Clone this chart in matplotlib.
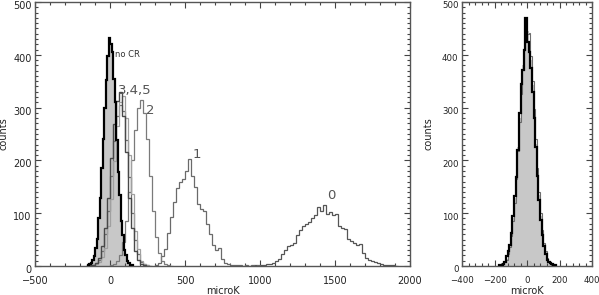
import numpy as np
import matplotlib
matplotlib.use("Agg")
import matplotlib.pyplot as plt
import matplotlib.transforms as mtransforms
from matplotlib.ticker import MultipleLocator

# ---- left panel: histograms of the residuals for the various CR cuts ----
# bin starts / widths (microK) and counts per bin
nocr_start, nocr_width = -150, 10
nocr_counts = [1, 3, 5, 11, 18, 35, 52, 90, 128, 185, 240, 300, 352, 398, 432,
               420, 405, 355, 310, 238, 178, 135, 85, 58, 30, 20, 9, 6, 2, 1]

c3_start, c3_width = -160, 20
c3_counts = [0, 1, 2, 6, 15, 38, 72, 128, 205, 268, 312, 330, 285, 216, 128,
             72, 28, 12, 4, 1, 0]

c4_start, c4_width = -160, 20
c4_counts = [0, 0, 1, 3, 7, 17, 35, 76, 126, 198, 265, 310, 322, 280, 210,
             136, 66, 32, 10, 4, 1, 0]

c5_start, c5_width = -160, 20
c5_counts = [0, 1, 2, 5, 12, 28, 60, 104, 170, 236, 285, 305, 294, 238, 168,
             100, 50, 22, 8, 3, 1, 0]

c2_start, c2_width = 0, 20
c2_counts = [1, 3, 9, 20, 45, 85, 140, 200, 258, 300, 315, 290, 240, 170, 105,
             55, 24, 10, 4, 1, 0]

c1_start, c1_width = 300, 20
c1_counts = [2, 6, 18, 32, 62, 92, 122, 148, 160, 165, 180, 203, 170, 150, 118,
             108, 104, 80, 60, 40, 30, 34, 14, 6, 3, 2, 1, 2, 1, 0, 1, 0, 1, 0, 1]

c0_start, c0_width = 940, 20
c0_counts = [0, 1, 0, 2, 1, 3, 4, 5, 9, 14, 22, 30, 38, 40, 44, 58, 68, 76, 80,
             84, 90, 96, 112, 104, 116, 98, 102, 96, 98, 76, 72, 70, 52, 48, 44,
             40, 42, 24, 16, 12, 10, 8, 6, 3, 2, 2, 1, 2, 0]

# ---- right panel ----
r_start, r_width = -160, 10
r_fill = [1, 3, 6, 14, 24, 38, 60, 90, 128, 172, 226, 280, 332, 380, 415, 430,
          445, 420, 390, 342, 288, 232, 180, 134, 95, 64, 42, 26, 14, 8, 4, 2]
r_gray = [2, 3, 7, 12, 22, 36, 56, 86, 120, 165, 218, 272, 326, 372, 410, 425,
          440, 442, 398, 350, 298, 240, 186, 140, 100, 68, 44, 28, 16, 9, 5, 2]
rb_start = -170
r_black = [1, 2, 4, 8, 18, 28, 40, 62, 95, 132, 168, 220, 290, 345, 372, 410,
           470, 425, 405, 375, 330, 280, 225, 170, 125, 88, 58, 38, 22, 12, 8,
           6, 3, 2, 1]

labels = ["no CR", "3,4,5", "2", "1", "0"]


def edges(start, width, counts):
    return start + width * np.arange(len(counts) + 1)


def style(ax, xmaj, xmin, ylab_x, size=7):
    ax.xaxis.set_major_locator(MultipleLocator(xmaj))
    ax.xaxis.set_minor_locator(MultipleLocator(xmin))
    ax.yaxis.set_major_locator(MultipleLocator(100))
    ax.yaxis.set_minor_locator(MultipleLocator(10))
    ax.tick_params(which="both", direction="in", top=True, right=True,
                   colors="#444444", labelcolor="#222222", labelsize=size,
                   width=0.8)
    ax.tick_params(which="major", length=4.5)
    ax.tick_params(which="minor", length=2.5)
    ax.tick_params(axis="x", which="major", pad=7)
    ax.tick_params(axis="y", which="major", pad=2.5)
    for s in ax.spines.values():
        s.set_color("#555555")
        s.set_linewidth(1.0)
    ax.set_ylim(0, 500)
    ax.set_xlabel("microK", fontsize=7, color="#222222")
    ax.xaxis.set_label_coords(0.5, -0.075)
    ax.set_ylabel("counts", fontsize=7, color="#222222")
    ax.yaxis.set_label_coords(ylab_x, 0.5)
    # IDL-like: y labels sit a little below their tick
    off = mtransforms.ScaledTranslation(0, -3 / 100, ax.figure.dpi_scale_trans)
    for lab in ax.get_yticklabels():
        lab.set_transform(lab.get_transform() + off)


fig = plt.figure(figsize=(5.99, 2.95), dpi=100)

ax = fig.add_axes([35 / 599, 29 / 295, 375 / 599, 264 / 295])
ax.stairs(nocr_counts, edges(nocr_start, nocr_width, nocr_counts), fill=True,
          color="#c8c8c8", zorder=1)
ax.stairs(c0_counts, edges(c0_start, c0_width, c0_counts), color="#555555", lw=0.9, zorder=2)
ax.stairs(c1_counts, edges(c1_start, c1_width, c1_counts), color="#6a6a6a", lw=0.9, zorder=2)
ax.stairs(c2_counts, edges(c2_start, c2_width, c2_counts), color="#7a7a7a", lw=0.9, zorder=2)
ax.stairs(c5_counts, edges(c5_start, c5_width, c5_counts), color="#6e6e6e", lw=0.9, zorder=3)
ax.stairs(c4_counts, edges(c4_start, c4_width, c4_counts), color="#a0a0a0", lw=0.9, zorder=3)
ax.stairs(c3_counts, edges(c3_start, c3_width, c3_counts), color="#484848", lw=1.0, zorder=3)
ax.stairs(nocr_counts, edges(nocr_start, nocr_width, nocr_counts), color="black",
          lw=1.6, zorder=4)

ax.text(33, 401, labels[0], fontsize=6, color="#333333", va="center", ha="left")
ax.text(50, 333, labels[1], fontsize=9.5, color="#555555", va="center", ha="left")
ax.text(267, 295, labels[2], fontsize=9.5, color="#555555", va="center", ha="center")
ax.text(580, 212, labels[3], fontsize=9.5, color="#555555", va="center", ha="center")
ax.text(1478, 134, labels[4], fontsize=9.5, color="#555555", va="center", ha="center")

ax.set_xlim(-500, 2000)
style(ax, 500, 100, -0.07)

ax2 = fig.add_axes([462 / 599, 29 / 295, 130 / 599, 264 / 295])
ax2.stairs(r_fill, edges(r_start, r_width, r_fill), fill=True, color="#c8c8c8", zorder=1)
ax2.stairs(r_gray, edges(r_start, r_width, r_gray), color="#6e6e6e", lw=0.8, zorder=2)
ax2.stairs(r_black, edges(rb_start, r_width, r_black), color="black", lw=1.6, zorder=3)
ax2.set_xlim(-400, 400)
style(ax2, 200, 40, -0.22, size=6.2)

fig.savefig("out.png", dpi=100)
